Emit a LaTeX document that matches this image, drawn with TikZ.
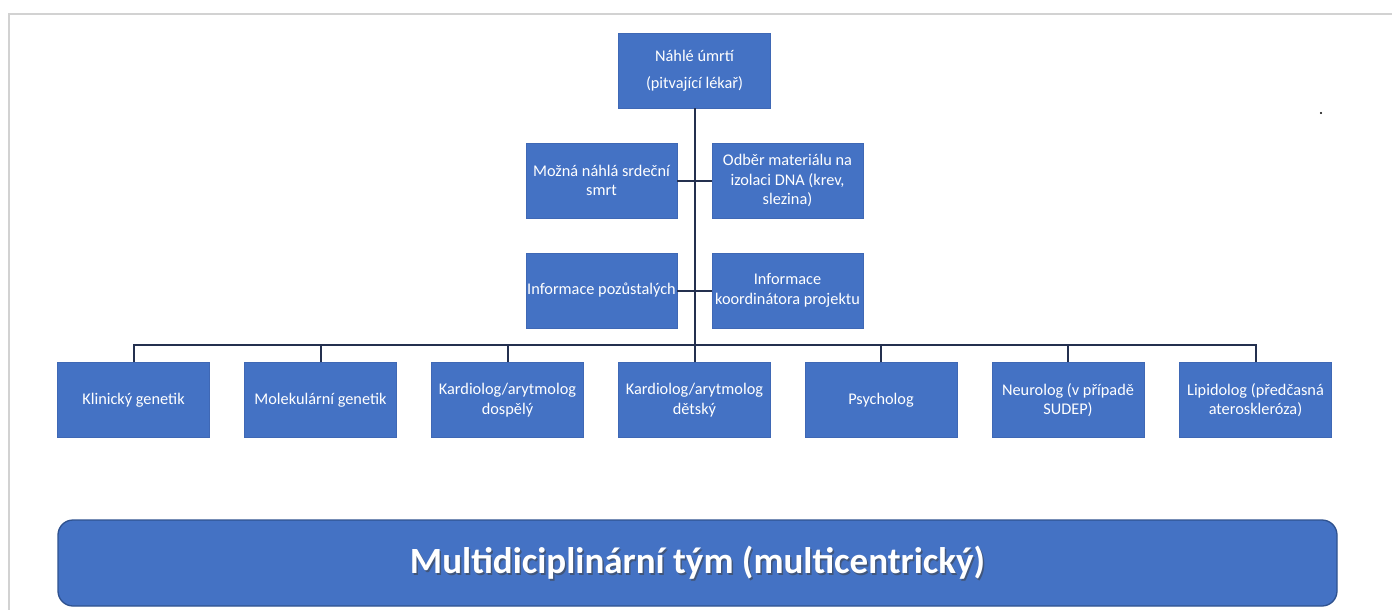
\documentclass[tikz,border=0pt]{standalone}
\usepackage{fontspec}
\setmainfont{Carlito}
\definecolor{boxblue}{HTML}{4472C4}
\definecolor{boxedge}{HTML}{3F68B5}
\definecolor{bannerEdge}{HTML}{2F528F}
\definecolor{linkcol}{HTML}{24304F}
\definecolor{framecol}{HTML}{D2D2D2}
\tikzset{
  orgbox/.style={draw=boxedge, line width=0.6pt, fill=boxblue, text=white, align=center,
    minimum width=152pt, minimum height=75pt, inner sep=0pt,
    font=\fontsize{16.3}{19.5}\selectfont},
  link/.style={draw=linkcol, line width=2pt},
  banner/.style={draw=bannerEdge, line width=1.3pt, fill=boxblue, rounded corners=15pt,
    minimum width=1279pt, minimum height=86pt, inner sep=0pt},
  bannertext/.style={text=white, font=\fontsize{37}{44}\selectfont\bfseries},
  bannershade/.style={text=black!75, opacity=0.55, font=\fontsize{37}{44}\selectfont\bfseries}
}
\begin{document}
\begin{tikzpicture}[x=1pt, y=-1pt]
\useasboundingbox (0,0) rectangle (1392,610);
\fill[white] (0,0) rectangle (1392,610);
% frame
\draw[framecol, line width=1.6pt] (9,610) -- (9,14) -- (1392,14);
% top
\node[orgbox] (top) at (694.5,70.5) {Náhlé úmrtí\\[7pt](pitvající lékař)};
% middle
\node[orgbox, minimum width=151pt] (m1) at (601.5,180.5) {Možná náhlá srdeční\\smrt};
\node[orgbox, minimum width=151pt] (m2) at (787.5,180.5) {Odběr materiálu na\\izolaci DNA (krev,\\slezina)};
\node[orgbox, minimum width=151pt] (m3) at (601.5,290.5) {Informace pozůstalých};
\node[orgbox, minimum width=151pt] (m4) at (787.5,290.5) {Informace\\koordinátora projektu};
% bottom row
\node[orgbox] (k1) at (133.5,400) {Klinický genetik};
\node[orgbox] (k2) at (320.5,400) {Molekulární genetik};
\node[orgbox] (k3) at (507.5,400) {Kardiolog/arytmolog\\dospělý};
\node[orgbox] (k4) at (694.5,400) {Kardiolog/arytmolog\\dětský};
\node[orgbox] (k5) at (881,400) {Psycholog};
\node[orgbox] (k6) at (1068,400) {Neurolog (v případě\\SUDEP)};
\node[orgbox] (k7) at (1255.5,400) {Lipidolog (předčasná\\ateroskleróza)};
% connectors
\draw[link] (top.south) -- (k4.north);
\draw[link] (m1.east) -- (m2.west);
\draw[link] (m3.east) -- (m4.west);
\draw[link] (k1.north) -- ++(0,-17) -| (k7.north);
\draw[link] (k2.north) -- ++(0,-17);
\draw[link] (k3.north) -- ++(0,-17);
\draw[link] (k5.north) -- ++(0,-17);
\draw[link] (k6.north) -- ++(0,-17);
% banner
\node[banner] (team) at (697.5,563) {};
\node[bannershade] (teamshadow) at ([xshift=1.5pt,yshift=-1.5pt]team.center) {Multidiciplinární tým (multicentrický)};
\node[bannertext] (teamtext) at (team.center) {Multidiciplinární tým (multicentrický)};
% small dot
\fill[black] (1321,113) circle (1.1pt) coordinate (dot);
\end{tikzpicture}
\end{document}
